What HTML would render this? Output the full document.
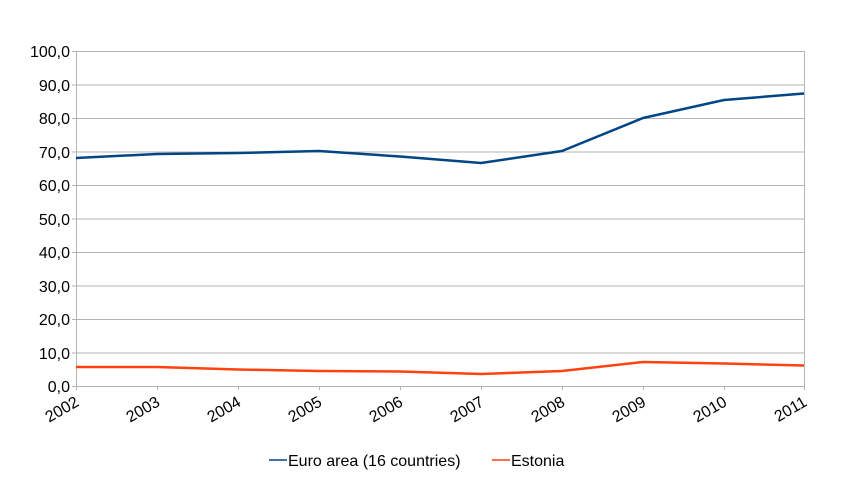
<!DOCTYPE html>
<html><head><meta charset="utf-8"><style>
html,body{margin:0;padding:0;background:#fff;}
svg{display:block;font-family:"Liberation Sans",sans-serif;}
</style></head><body>
<svg width="842" height="483" viewBox="0 0 842 483" xmlns="http://www.w3.org/2000/svg">
<rect width="842" height="483" fill="#fff"/>
<g stroke="#b3b3b3" stroke-width="1">
<line x1="76" y1="51.5" x2="804" y2="51.5"/>
<line x1="76" y1="85" x2="804" y2="85"/>
<line x1="76" y1="118.5" x2="804" y2="118.5"/>
<line x1="76" y1="152" x2="804" y2="152"/>
<line x1="76" y1="185.5" x2="804" y2="185.5"/>
<line x1="76" y1="219" x2="804" y2="219"/>
<line x1="76" y1="252.5" x2="804" y2="252.5"/>
<line x1="76" y1="286" x2="804" y2="286"/>
<line x1="76" y1="319.5" x2="804" y2="319.5"/>
<line x1="76" y1="353" x2="804" y2="353"/>
<line x1="76" y1="386.5" x2="804" y2="386.5"/>
<line x1="76.5" y1="51" x2="76.5" y2="386"/>
<line x1="804.5" y1="51" x2="804.5" y2="386"/>
<line x1="72" y1="51.5" x2="76" y2="51.5"/><line x1="72" y1="85" x2="76" y2="85"/><line x1="72" y1="118.5" x2="76" y2="118.5"/><line x1="72" y1="152" x2="76" y2="152"/><line x1="72" y1="185.5" x2="76" y2="185.5"/><line x1="72" y1="219" x2="76" y2="219"/><line x1="72" y1="252.5" x2="76" y2="252.5"/><line x1="72" y1="286" x2="76" y2="286"/><line x1="72" y1="319.5" x2="76" y2="319.5"/><line x1="72" y1="353" x2="76" y2="353"/><line x1="72" y1="386.5" x2="76" y2="386.5"/>
<line x1="76.5" y1="386" x2="76.5" y2="390"/><line x1="157.5" y1="386" x2="157.5" y2="390"/><line x1="238.5" y1="386" x2="238.5" y2="390"/><line x1="319.5" y1="386" x2="319.5" y2="390"/><line x1="400.5" y1="386" x2="400.5" y2="390"/><line x1="481.5" y1="386" x2="481.5" y2="390"/><line x1="562.5" y1="386" x2="562.5" y2="390"/><line x1="643.5" y1="386" x2="643.5" y2="390"/><line x1="724.5" y1="386" x2="724.5" y2="390"/><line x1="804.5" y1="386" x2="804.5" y2="390"/>
</g>
<g font-size="16" fill="#000" text-anchor="end">
<text x="70" y="57">100,0</text><text x="70" y="91">90,0</text><text x="70" y="124">80,0</text><text x="70" y="158">70,0</text><text x="70" y="191">60,0</text><text x="70" y="225">50,0</text><text x="70" y="258">40,0</text><text x="70" y="292">30,0</text><text x="70" y="325">20,0</text><text x="70" y="359">10,0</text><text x="70" y="392">0,0</text>
</g>
<g font-size="16" fill="#000" text-anchor="end">
<text transform="translate(80,405) rotate(-30)">2002</text>
<text transform="translate(161,405) rotate(-30)">2003</text>
<text transform="translate(242,405) rotate(-30)">2004</text>
<text transform="translate(323,405) rotate(-30)">2005</text>
<text transform="translate(404,405) rotate(-30)">2006</text>
<text transform="translate(485,405) rotate(-30)">2007</text>
<text transform="translate(566,405) rotate(-30)">2008</text>
<text transform="translate(647,405) rotate(-30)">2009</text>
<text transform="translate(728,405) rotate(-30)">2010</text>
<text transform="translate(808,405) rotate(-30)">2011</text>
</g>
<polyline fill="none" stroke="#004586" stroke-width="2.5" stroke-linejoin="round" points="76,158 157,154 238,153 319,151 400,156.5 481,163 562,151 643,118 724,100 804,93.5"/>
<polyline fill="none" stroke="#ff420e" stroke-width="2.5" stroke-linejoin="round" points="76,367 157,367 238,369.5 319,371 400,371.5 481,374 562,371 643,362 724,363.5 804,365.5"/>
<line x1="269" y1="460" x2="287" y2="460" stroke="#004586" stroke-width="1.5"/>
<text x="288" y="466" font-size="16">Euro area (16 countries)</text>
<line x1="492" y1="460" x2="510" y2="460" stroke="#ff420e" stroke-width="1.5"/>
<text x="511" y="466" font-size="16">Estonia</text>
</svg>
</body></html>
